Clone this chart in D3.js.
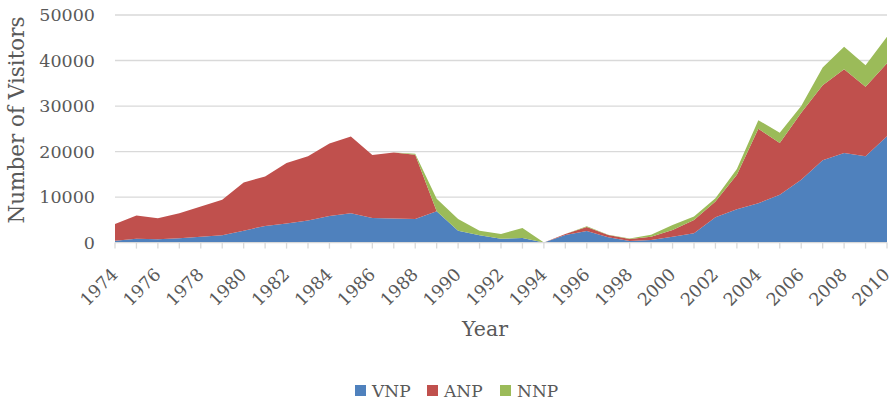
<!DOCTYPE html>
<html><head><meta charset="utf-8">
<script src="https://cdn.jsdelivr.net/npm/d3@7"></script>
<style>body{margin:0;background:#fff}svg{display:block}text{font-family:"DejaVu Serif",serif;fill:#595959}</style>
</head><body><svg id="c" width="893" height="404"></svg>
<script>
const years = d3.range(1974, 2011);
const seriesNames = ["VNP", "ANP", "NNP"];
const seriesColors = ["#4f81bd", "#c0504d", "#9bbb59"];
const VNP = [420, 860, 730, 950, 1300, 1610, 2630, 3660, 4170, 4830, 5870, 6460, 5430, 5270, 5210, 6900, 2630, 1610, 860, 1010, 0, 1680, 2560, 1170, 350, 570, 1300, 2050, 5580, 7350, 8670, 10500, 13810, 18070, 19700, 18950, 23360];
const ANP = [3680, 5070, 4630, 5510, 6620, 7790, 10580, 10880, 13320, 14120, 15880, 16840, 13830, 14500, 14110, 0, 0, 0, 0, 0, 0, 220, 880, 510, 450, 730, 1480, 2940, 3440, 7560, 16320, 11400, 14710, 16480, 18380, 15310, 16040];
const NNP = [0, 0, 0, 0, 0, 0, 0, 0, 0, 0, 0, 0, 0, 0, 180, 2720, 2570, 1020, 1040, 2210, 0, 0, 160, 70, 100, 450, 1100, 720, 750, 1260, 1900, 2210, 1470, 3900, 4920, 4700, 5800];
const yTicks = [0, 10000, 20000, 30000, 40000, 50000];
const xLabelYears = d3.range(1974, 2011, 2);

const rows = years.map((y, i) => ({year: y, VNP: VNP[i], ANP: ANP[i], NNP: NNP[i]}));
const svg = d3.select("#c");
const x = d3.scaleLinear().domain([1974, 2010]).range([115, 887]);
const y = d3.scaleLinear().domain([0, 50000]).range([242.6, 15]);

// gridlines
svg.append("g").selectAll("line").data(yTicks.slice(1)).join("line")
  .attr("x1", x(1974)).attr("x2", x(2010))
  .attr("y1", d => y(d)).attr("y2", d => y(d))
  .attr("stroke", "#d9d9d9").attr("stroke-width", 1.3);

const stack = d3.stack().keys(seriesNames)(rows);
const area = d3.area().x(d => x(d.data.year)).y0(d => y(d[0])).y1(d => y(d[1]));
svg.append("g").selectAll("path").data(stack).join("path")
  .attr("d", area).attr("fill", (d, i) => seriesColors[i]);

// x axis
const xAxis = svg.append("g").attr("transform", `translate(0,${y(0)})`);
xAxis.append("line").attr("x1", x(1974)).attr("x2", x(2010)).attr("stroke", "#d9d9d9").attr("stroke-width", 1.3);
xAxis.selectAll(".tk").data(years).join("line").attr("class", "tk")
  .attr("x1", d => x(d)).attr("x2", d => x(d)).attr("y1", 0).attr("y2", 6)
  .attr("stroke", "#d9d9d9").attr("stroke-width", 1.3);
xAxis.selectAll("text").data(xLabelYears).join("text")
  .attr("text-anchor", "end").attr("font-size", 17.5)
  .attr("transform", d => `translate(${x(d) + 4},${33}) rotate(-45)`)
  .text(d => d);

// y axis labels
svg.append("g").selectAll("text").data(yTicks).join("text")
  .attr("x", 95).attr("y", d => y(d)).attr("dy", "0.35em")
  .attr("text-anchor", "end").attr("font-size", 17.5).text(d => d);

// titles
svg.append("text").attr("transform", "translate(24,120) rotate(-90)")
  .attr("text-anchor", "middle").attr("font-size", 21.5).text("Number of Visitors");
svg.append("text").attr("x", 485).attr("y", 336)
  .attr("text-anchor", "middle").attr("font-size", 20.5).text("Year");

// legend
const legX = [355, 427, 500];
const leg = svg.append("g").selectAll("g").data(seriesNames).join("g")
  .attr("transform", (d, i) => `translate(${legX[i]},385)`);
leg.append("rect").attr("width", 11).attr("height", 11).attr("fill", (d, i) => seriesColors[i]);
leg.append("text").attr("x", 17).attr("y", 11.5).attr("font-size", 17).text(d => d);
</script></body></html>
